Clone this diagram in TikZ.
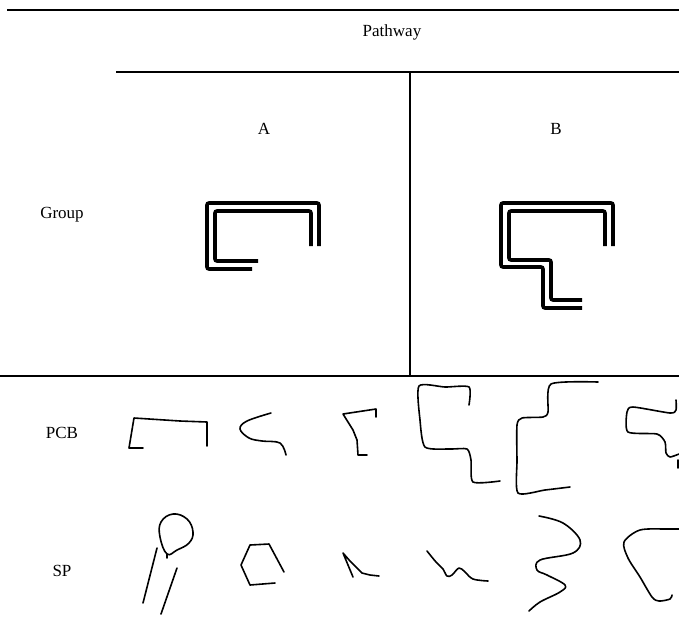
\documentclass[tikz,border=0pt]{standalone}
\usepackage{fontspec}
\setmainfont{Liberation Serif}
\usetikzlibrary{positioning}

\begin{document}
\begin{tikzpicture}[x=1pt,y=-1pt,
        rule/.style={line width=1.8pt},
        route/.style={line width=3.6pt,rounded corners=2pt},
        sketch/.style={line width=1.6pt,line join=round,line cap=round},
        lbl/.style={font=\fontsize{17}{20}\selectfont}]
        \useasboundingbox (0,0) rectangle (679,641);

        % table rules
        \draw [rule] (7,10) -- (679,10);
        \draw [rule] (116,72) -- (679,72);
        \draw [rule] (410,72) -- (410,376);
        \draw [rule] (0,376) -- (679,376);

        % labels
        \node [lbl] (pw) at (392,32) {Pathway};
        \node [lbl] (a) at (264,129) {A};
        \node [lbl] (b) at (556,129) {B};
        \node [lbl] (grp) at (62,215) {Group};
        \node [lbl] (pcb) at (62,433) {PCB};
        \node [lbl] (sp) at (62,571) {SP};

        % pathway A
        \draw [route] (252,269) -- (207,269) -- (207,203) -- (319,203) -- (319,246);
        \draw [route] (258,261) -- (215,261) -- (215,211) -- (311,211) -- (311,246);
        % pathway B
        \draw [route] (613,246) -- (613,203) -- (501,203) -- (501,267) -- (543,267) -- (543,308) -- (582,308);
        \draw [route] (605,246) -- (605,211) -- (509,211) -- (509,260) -- (551,260) -- (551,300) -- (582,300);

        % PCB drawings
        \draw [sketch] (143,448) -- (129,448) -- (134,418) -- (180,421) -- (207,422) -- (207,446);
        \draw [sketch] plot [smooth,tension=0.6] coordinates {(271,413) (247,421) (240,429) (249,438) (262,441) (280,443) (286,455)};
        \draw [sketch] (376,417) -- (376,409) -- (343,414) -- (353,430) -- (357,440) -- (358,455) -- (367,455);
        \draw [sketch] plot [smooth,tension=0.4] coordinates {(469,405) (469,387) (445,387) (419,386) (420,420) (425,447) (450,449) (467,449) (471,460) (473,482) (500,481)};
        \draw [sketch] plot [smooth,tension=0.4] coordinates {(598,382) (551,384) (548,412) (543,417) (522,418) (517,425) (517,460) (518,493) (545,490) (570,487)};
        \draw [sketch] plot [smooth,tension=0.4] coordinates {(676,400) (676,410) (670,413) (633,407) (627,412) (628,432) (657,434) (665,442) (666,453) (670,457) (679,454)};
        \draw [sketch] (678,460) -- (678,468);

        % SP drawings
        \draw [sketch] plot [smooth cycle,tension=0.7] coordinates {(167,554) (160,537) (161,522) (173,514) (187,519) (193,532) (189,543) (177,550)};
        \draw [sketch] (167,554) -- (167,558);
        \draw [sketch] (157,548) -- (143,603);
        \draw [sketch] (177,568) -- (161,614);
        \draw [sketch] (284,572) -- (269,544) -- (250,545) -- (241,565) -- (250,585) -- (275,583);
        \draw [sketch] (353,577) -- (343,553) -- (350,561) -- (362,573) -- (370,575) -- (379,576);
        \draw [sketch] plot [smooth,tension=0.6] coordinates {(427,551) (436,562) (443,569) (447,576) (452,575) (459,568) (465,572) (473,579) (488,581)};
        \draw [sketch] plot [smooth,tension=0.6] coordinates {(539,516) (563,523) (580,540) (573,553) (540,560) (537,570) (547,575) (565,585) (560,592) (540,602) (529,611)};
        \draw [sketch] plot [smooth,tension=0.5] coordinates {(672,595) (670,599) (659,601) (652,597) (640,577) (628,558) (624,542) (640,530) (667,529) (679,529)};
\end{tikzpicture}
\end{document}
